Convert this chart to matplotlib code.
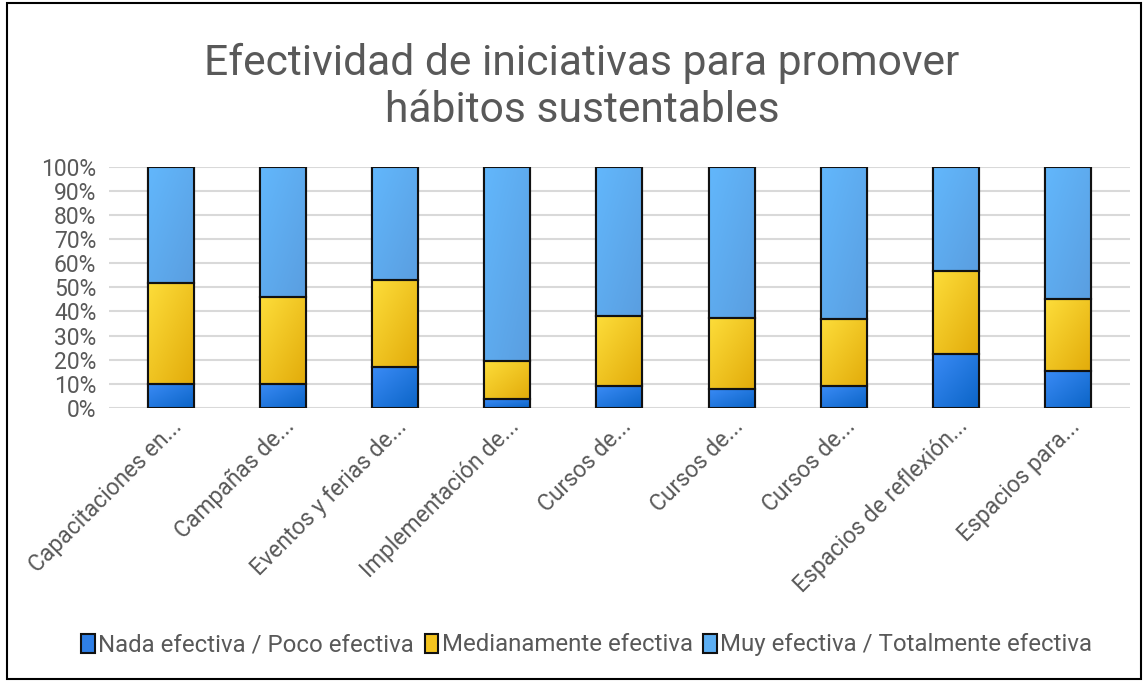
import matplotlib
matplotlib.use("Agg")
import matplotlib.pyplot as plt
import numpy as np
from matplotlib.patches import Rectangle
from matplotlib.colors import LinearSegmentedColormap, to_rgb

categories = ["Capacitaciones en...", "Campañas de...", "Eventos y ferias de...",
              "Implementación de...", "Cursos de...", "Cursos de...", "Cursos de...",
              "Espacios de reflexión...", "Espacios para..."]
nada = [10, 10, 17, 3.5, 9, 8, 9, 22.5, 15.5]
medi = [42, 36, 36, 16, 29, 29.5, 28, 34.5, 29.5]
muy = [48, 54, 47, 80.5, 62, 62.5, 63, 43, 55]
series_names = ["Nada efectiva / Poco efectiva", "Medianamente efectiva",
                "Muy efectiva / Totalmente efectiva"]
colors = ["#2f7fe6", "#f4c41f", "#5caef2"]
grad = [("#3a8bf6", "#0b64c6"), ("#fddd3a", "#e2ab0a"), ("#62b7fc", "#5a9ee0")]

plt.rcParams['font.family'] = ['Roboto', 'DejaVu Sans']

fig = plt.figure(figsize=(11.46, 6.81), dpi=100)
ax = fig.add_axes([0.095, 0.401, 0.891, 0.354])

x = np.arange(len(categories))
data = [nada, medi, muy]
totals = np.array(nada) + np.array(medi) + np.array(muy)
bottom = np.zeros(len(categories))
gy, gx = np.mgrid[0:1:50j, 0:1:50j]
gfield = (gx + (1 - gy)) / 2.0
for vals, c, name, (c0, c1) in zip(data, colors, series_names, grad):
    frac = np.array(vals) / totals
    bars = ax.bar(x, frac, bottom=bottom, width=0.41, color=c, edgecolor="#111111",
                  linewidth=1.5, label=name, zorder=3)
    cmap = LinearSegmentedColormap.from_list("g", [to_rgb(c0), to_rgb(c1)])
    for b in bars:
        x0, y0 = b.get_x(), b.get_y()
        w, h = b.get_width(), b.get_height()
        im = ax.imshow(gfield, cmap=cmap, vmin=0, vmax=1,
                       extent=(x0, x0 + w, y0, y0 + h), origin='lower',
                       aspect='auto', zorder=3.5, interpolation='bilinear')
        im.set_clip_path(b)
        ax.add_patch(Rectangle((x0, y0), w, h, fill=False, edgecolor="#111111",
                               linewidth=1.5, zorder=4))
    bottom += frac

ax.set_ylim(0, 1)
ax.set_xlim(-0.55, len(categories) - 0.45)
ax.set_yticks(np.arange(0, 1.01, 0.1))
ax.set_yticklabels([f"{int(round(v*100))}%" for v in np.arange(0, 1.01, 0.1)],
                   fontsize=16.5, color="#595959")
ax.yaxis.grid(True, color="#d9d9d9", linewidth=1.5, zorder=0)
ax.set_axisbelow(True)
ax.tick_params(axis='y', length=0, pad=9)
ax.tick_params(axis='x', length=0, pad=5)
ax.set_xticks(x)
ax.set_xticklabels(categories, rotation=45, ha='right', rotation_mode='anchor',
                   fontsize=16.5, color="#595959")
for s in ax.spines.values():
    s.set_visible(False)

fig.text(0.508, 0.872, "Efectividad de iniciativas para promover\nhábitos sustentables",
         ha='center', va='center', fontsize=30.7, color="#595959", linespacing=1.2)

leg = fig.legend(loc='center', bbox_to_anchor=(0.512, 0.053), ncol=3, frameon=False,
                 fontsize=17.3, handlelength=0.55, handleheight=0.85, handletextpad=0.15,
                 columnspacing=0.45, labelcolor="#595959")
for h in leg.legend_handles:
    h.set_linewidth(1.5)

fig.patches.append(Rectangle((0.006, 0.003), 0.99, 0.993, transform=fig.transFigure,
                             fill=False, edgecolor="black", linewidth=1.5))

fig.savefig("out.png", dpi=100)
